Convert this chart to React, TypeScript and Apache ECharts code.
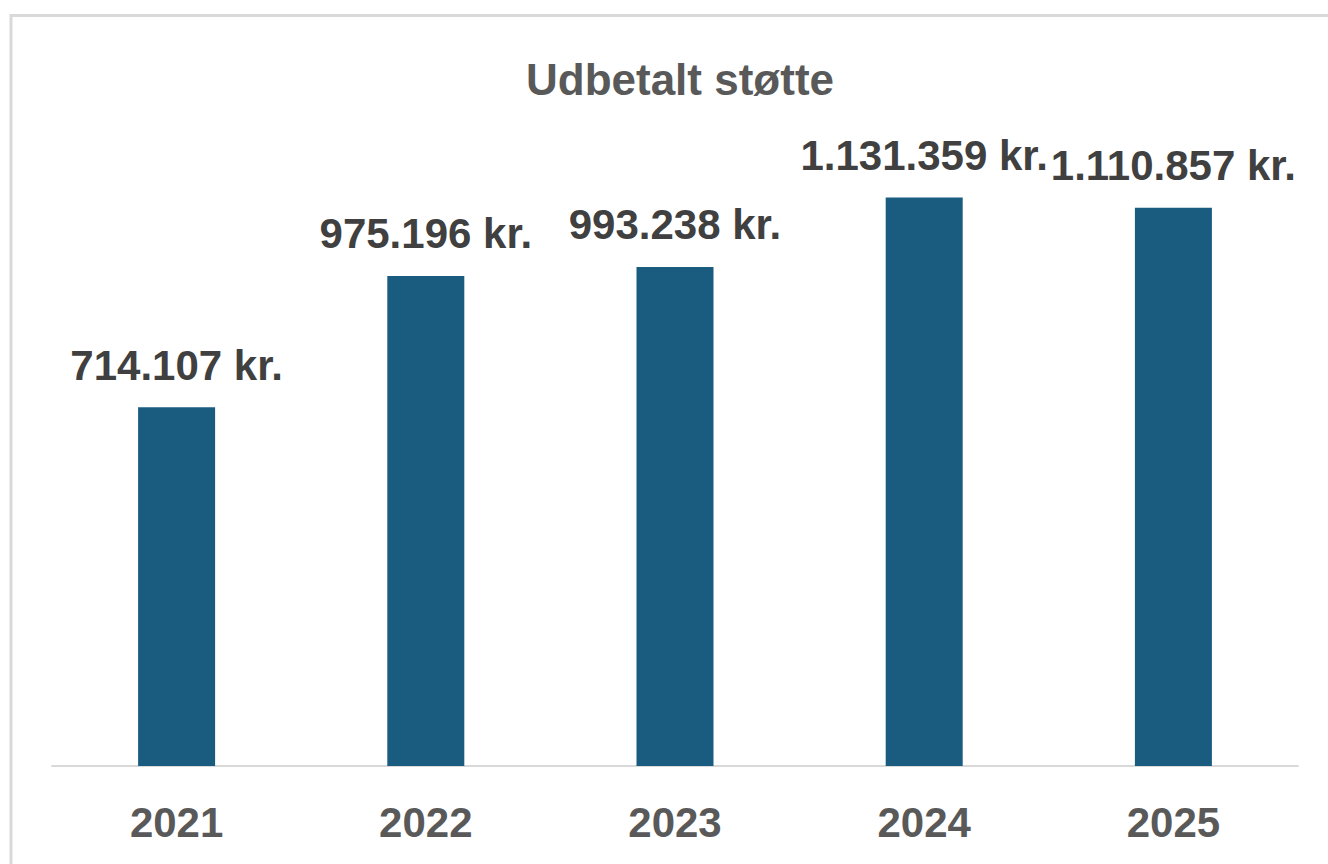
import React, { useEffect, useRef } from "react";
import * as echarts from "echarts";

const years = ["2021", "2022", "2023", "2024", "2025"];
const payouts = [714107, 975196, 993238, 1131359, 1110857];
const titleText = "Udbetalt støtte";

const fmt = (v: number) =>
  String(Math.round(v)).replace(/\B(?=(\d{3})+(?!\d))/g, ".") + " kr.";

export default function App() {
  const ref = useRef<HTMLDivElement>(null);
  useEffect(() => {
    if (!ref.current) return;
    const chart = echarts.init(ref.current, null, { renderer: "svg" });
    const font = "'Liberation Sans', Arial, sans-serif";
    chart.setOption({
      animation: false,
      backgroundColor: "#ffffff",
      title: {
        text: titleText,
        left: 675,
        top: 52,
        textAlign: "center",
        textStyle: {
          color: "#595959",
          fontSize: 44,
          fontWeight: "bold",
          fontFamily: font,
        },
      },
      graphic: [
        {
          type: "polyline",
          shape: { points: [[11, 870], [11, 15.5], [1340, 15.5]] },
          style: { stroke: "#d9d9d9", lineWidth: 3, fill: "none" },
          silent: true,
        },
      ],
      grid: { left: 52, right: 30, top: 163, bottom: 98, containLabel: false },
      xAxis: {
        type: "category",
        data: years,
        axisLine: { show: true, lineStyle: { color: "#d9d9d9", width: 2 } },
        axisTick: { show: false },
        axisLabel: {
          color: "#595959",
          fontSize: 42,
          fontWeight: "bold",
          fontFamily: font,
          margin: 35,
        },
      },
      yAxis: {
        type: "value",
        min: 0,
        max: 1200000,
        show: false,
        splitLine: { show: false },
      },
      series: [
        {
          type: "bar",
          data: payouts,
          barWidth: 77,
          itemStyle: { color: "#1a5c80" },
          label: {
            show: true,
            position: "top",
            distance: 21,
            color: "#404040",
            fontSize: 42,
            fontWeight: "bold",
            fontFamily: font,
            formatter: (p: any) => fmt(p.value),
          },
        },
      ],
    });
    return () => chart.dispose();
  }, []);
  return (
    <div
      ref={ref}
      style={{ position: "fixed", left: 0, top: 0, width: 1328, height: 864 }}
    />
  );
}
